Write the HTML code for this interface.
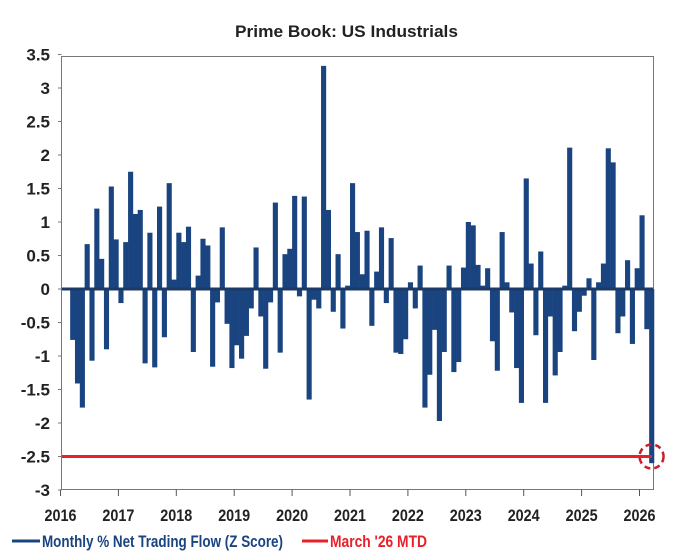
<!DOCTYPE html>
<html><head><meta charset="utf-8"><style>
body{margin:0;background:#fff;}
svg{display:block;font-family:"Liberation Sans",sans-serif;font-weight:bold;}
</style></head><body>
<svg id="chart" width="680" height="554" viewBox="0 0 680 554" xmlns="http://www.w3.org/2000/svg">
<text x="235" y="37" font-size="17" fill="#222" textLength="223" lengthAdjust="spacingAndGlyphs">Prime Book: US Industrials</text>
<rect x="61.5" y="56.5" width="592" height="433" fill="none" stroke="#777" stroke-width="1"/>
<g id="yaxis"></g>
<g id="xaxis"></g>
<g id="bars"></g>
<g id="overlay"></g>
<g>
<line x1="12" y1="541" x2="40" y2="541" stroke="#1a4480" stroke-width="3"/>
<text x="42" y="547" font-size="17" fill="#1a4480" textLength="241" lengthAdjust="spacingAndGlyphs">Monthly % Net Trading Flow (Z Score)</text>
<line x1="302" y1="541" x2="328" y2="541" stroke="#e8202a" stroke-width="3"/>
<text x="330" y="547" font-size="17" fill="#e8202a" textLength="97" lengthAdjust="spacingAndGlyphs">March '26 MTD</text>
</g>
</svg>
<script>
const startYear = 2016, startMonth = 2; // March 2016 (0-based month)
const values = [-0.76,-1.41,-1.77,0.67,-1.07,1.2,0.45,-0.9,1.53,0.74,-0.21,0.7,1.75,1.12,1.18,-1.11,0.84,-1.17,1.23,-0.72,1.58,0.14,0.84,0.7,0.93,-0.94,0.2,0.75,0.65,-1.16,-0.2,0.92,-0.52,-1.18,-0.84,-1.04,-0.7,-0.29,0.62,-0.41,-1.19,-0.2,1.29,-0.95,0.52,0.6,1.39,-0.11,1.38,-1.65,-0.16,-0.29,3.33,1.18,-0.34,0.52,-0.59,0.05,1.58,0.85,0.22,0.87,-0.55,0.26,0.92,-0.21,0.76,-0.95,-0.97,-0.75,0.1,-0.29,0.35,-1.77,-1.28,-0.61,-1.97,-0.94,0.35,-1.24,-1.09,0.32,1.0,0.95,0.36,0.05,0.31,-0.78,-1.22,0.85,0.1,-0.35,-1.18,-1.7,1.65,0.38,-0.69,0.56,-1.7,-0.41,-1.29,-0.94,0.05,2.11,-0.63,-0.34,-0.1,0.16,-1.06,0.1,0.38,2.1,1.89,-0.66,-0.41,0.43,-0.82,0.31,1.1,-0.6,-2.6];
const yTicks = [3.5,3,2.5,2,1.5,1,0.5,0,-0.5,-1,-1.5,-2,-2.5,-3];
const yTickLabels = ["3.5","3","2.5","2","1.5","1","0.5","0","-0.5","-1","-1.5","-2","-2.5","-3"];
const xYears = [2016,2017,2018,2019,2020,2021,2022,2023,2024,2025,2026];
const mtdLevel = -2.5;

const NS = "http://www.w3.org/2000/svg";
const y = v => 289 + (0 - v) * 67.0;
const x = t => 60.5 + (t - 2016) * 57.9;
function mk(tag, attrs, parent){const e=document.createElementNS(NS,tag);for(const k in attrs)e.setAttribute(k,attrs[k]);parent.appendChild(e);return e;}

const ya = document.getElementById('yaxis');
yTicks.forEach((v,i)=>{
  const t = mk('text',{x:50,y:y(v)+6,'text-anchor':'end','font-size':17,fill:'#222'},ya);
  t.textContent = yTickLabels[i];
  
  
  const l = mk('line',{x1:58,x2:61.5,y1:y(v),y2:y(v),stroke:'#777'},ya);
  
  
});
const xa = document.getElementById('xaxis');
xYears.forEach(yr=>{
  const l = mk('line',{x1:x(yr),x2:x(yr),y1:489.5,y2:496,stroke:'#555'},xa);
  
  
  const t = mk('text',{x:x(yr)-16,y:521,'font-size':17,fill:'#222',textLength:32,lengthAdjust:'spacingAndGlyphs'},xa);
  t.textContent = yr;
  
  
});
const bg = document.getElementById('bars');
const mw = 57.9/12;
values.forEach((v,i)=>{
  const m = startMonth + i;
  const t = startYear + m/12;
  const x0 = x(t);
  const r = mk('rect',{x:x0,width:mw+0.3,y:Math.min(y(v),y(0)),height:Math.abs(y(v)-y(0)),fill:'#1a4480'},bg);
  
  
});
const ov = document.getElementById('overlay');
const zl = mk('line',{x1:62,x2:653,y1:y(0),y2:y(0),stroke:'#1c3a66','stroke-width':3},ov);


const rl = mk('line',{x1:62,x2:652,y1:y(mtdLevel),y2:y(mtdLevel),stroke:'#e8202a','stroke-width':3},ov);


const lastT = startYear + (startMonth + values.length - 1)/12;
const c = mk('circle',{cx:x(lastT)+mw/2,cy:y(mtdLevel),r:12,fill:'none',stroke:'#c8202a','stroke-width':2.5,'stroke-dasharray':'6,4'},ov);


</script>
</body></html>
